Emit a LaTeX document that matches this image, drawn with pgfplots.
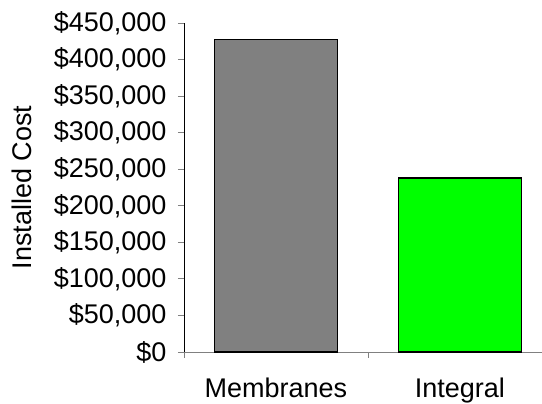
\documentclass[border=0pt]{standalone}
\usepackage{fontspec}
\setmainfont{Liberation Sans}
\usepackage{pgfplots}
\pgfplotsset{compat=1.18}
\definecolor{barGray}{HTML}{808080}
\definecolor{barGreen}{HTML}{00FF00}
\definecolor{axisGray}{HTML}{808080}

\begin{document}
\begin{tikzpicture}
\begin{axis}[
  name=ax,
  scale only axis,
  width=358bp, height=329bp,
  xmin=-0.5, xmax=1.446,
  ymin=0, ymax=450000,
  axis x line=bottom, axis y line=left,
  axis line style={-},
  x axis line style={axisGray, line width=0.8bp},
  y axis line style={black, line width=0.8bp},
  xtick={-0.5,0.5,1.5},
  xticklabels={},
  extra x ticks={0,1},
  extra x tick labels={Membranes,Integral},
  extra x tick style={major tick length=0pt, xticklabel style={yshift=-22bp}},
  x tick style={axisGray, line width=0.8bp},
  major tick length=6bp,
  tick align=outside,
  ytick={0,50000,...,450000},
  y tick style={axisGray, line width=0.8bp},
  /pgf/number format/assume math mode=true,
  yticklabel={\$\pgfmathprintnumber[fixed,precision=0,1000 sep={,}]{\tick}},
  scaled y ticks=false,
  yticklabel style={xshift=-8bp},
  ylabel={Installed Cost},
  ylabel style={at={(rel axis cs:0,0.5)}, yshift=162bp, anchor=center},
  tick label style={font=\fontsize{27bp}{30bp}\selectfont},
  label style={font=\fontsize{27bp}{30bp}\selectfont},
  ybar, bar width=0.668, bar shift=0pt,
  clip=false,
]
\addplot[draw=black, line width=1.2bp, fill=barGray] coordinates {(0,427000)};
\addplot[draw=black, line width=1.2bp, fill=barGreen] coordinates {(1,238000)};
\end{axis}
\pgfresetboundingbox
\path ([shift={(-184bp,-52bp)}]ax.south west) rectangle ([shift={(0bp,23bp)}]ax.north east);
\end{tikzpicture}
\end{document}
